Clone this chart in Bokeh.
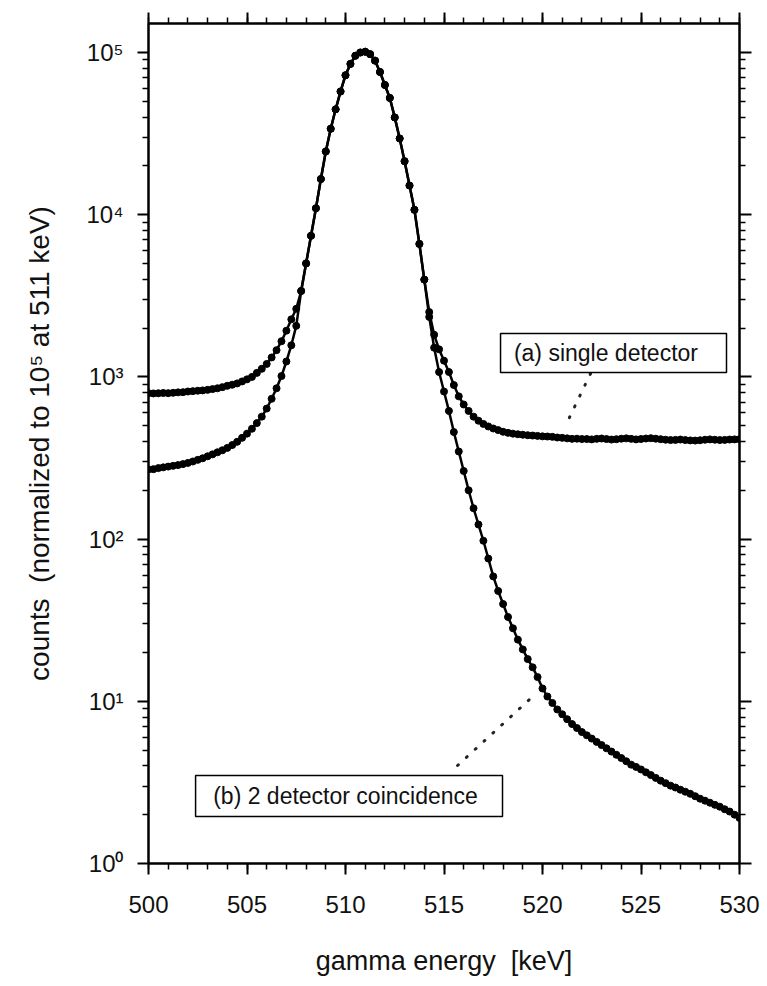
from bokeh.plotting import figure
from bokeh.models import (ColumnDataSource, LinearAxis, LogAxis, FixedTicker,
                          CustomJSTickFormatter, BoxAnnotation, Label, Range1d)
from bokeh.embed import file_html
from bokeh.resources import INLINE

# ---- data (gamma energy in keV, normalized counts) ----
energy_kev = [
    500.0, 500.25, 500.5, 500.75, 501.0, 501.25, 501.5, 501.75,
    502.0, 502.25, 502.5, 502.75, 503.0, 503.25, 503.5, 503.75,
    504.0, 504.25, 504.5, 504.75, 505.0, 505.25, 505.5, 505.75,
    506.0, 506.25, 506.5, 506.75, 507.0, 507.25, 507.5, 507.75,
    508.0, 508.25, 508.5, 508.75, 509.0, 509.25, 509.5, 509.75,
    510.0, 510.25, 510.5, 510.75, 511.0, 511.25, 511.5, 511.75,
    512.0, 512.25, 512.5, 512.75, 513.0, 513.25, 513.5, 513.75,
    514.0, 514.25, 514.5, 514.75, 515.0, 515.25, 515.5, 515.75,
    516.0, 516.25, 516.5, 516.75, 517.0, 517.25, 517.5, 517.75,
    518.0, 518.25, 518.5, 518.75, 519.0, 519.25, 519.5, 519.75,
    520.0, 520.25, 520.5, 520.75, 521.0, 521.25, 521.5, 521.75,
    522.0, 522.25, 522.5, 522.75, 523.0, 523.25, 523.5, 523.75,
    524.0, 524.25, 524.5, 524.75, 525.0, 525.25, 525.5, 525.75,
    526.0, 526.25, 526.5, 526.75, 527.0, 527.25, 527.5, 527.75,
    528.0, 528.25, 528.5, 528.75, 529.0, 529.25, 529.5, 529.75,
    530.0,
]

single_detector = [
    794, 791, 793, 796, 794, 798, 803, 805,
    813, 817, 822, 826, 832, 841, 851, 865,
    881, 895, 912, 938, 966, 1000, 1059, 1122,
    1202, 1318, 1462, 1660, 1928, 2265, 2630, 3388,
    5012, 7413, 10965, 16596, 24547, 33884, 44668, 57544,
    72444, 85114, 95499, 100000, 101158, 97724, 89125, 75858,
    63096, 52481, 39811, 29512, 21380, 15136, 10715, 6607,
    3981, 2512, 1820, 1479, 1259, 1072, 891, 759,
    676, 617, 569, 537, 513, 495, 481, 470,
    459, 452, 447, 443, 440, 437, 435, 433,
    430, 429, 427, 423, 421, 418, 415, 416,
    414, 414, 412, 415, 417, 414, 411, 413,
    416, 418, 415, 412, 414, 417, 419, 416,
    413, 410, 408, 409, 411, 408, 406, 405,
    407, 410, 412, 410, 408, 409, 411, 412,
    413,
]

two_detector_coincidence = [
    269, 270, 274, 277, 280, 283, 286, 290,
    295, 301, 308, 315, 324, 333, 343, 353,
    365, 380, 398, 421, 447, 479, 519, 569,
    638, 733, 851, 1012, 1245, 1567, 2065, 3388,
    5012, 7413, 10965, 16596, 24547, 33884, 44668, 57544,
    72444, 85114, 95499, 100000, 101158, 97724, 89125, 75858,
    63096, 52481, 39811, 29512, 21380, 15136, 10715, 6607,
    3981, 2344, 1514, 1072, 813, 617, 457, 347,
    263, 200, 155, 123, 97.7, 75.9, 58.9, 47.9,
    39.8, 33.1, 28.2, 24.0, 20.9, 18.2, 16.2, 14.1,
    12.0, 10.7, 9.77, 8.91, 8.32, 7.76, 7.24, 6.84,
    6.46, 6.17, 5.89, 5.62, 5.37, 5.13, 4.90, 4.68,
    4.47, 4.27, 4.07, 3.94, 3.80, 3.65, 3.51, 3.37,
    3.24, 3.13, 3.02, 2.94, 2.85, 2.77, 2.69, 2.60,
    2.51, 2.44, 2.37, 2.30, 2.24, 2.16, 2.09, 2.00,
    1.91,
]

x_major_ticks = [500, 505, 510, 515, 520, 525, 530]
y_major_ticks = [1, 10, 100, 1000, 10000, 100000]

label_a = "(a) single detector"
label_b = "(b) 2 detector coincidence"
x_title = "gamma energy\u00a0 [keV]"
y_title = "counts\u00a0 (normalized to 10\u2075 at 511 keV)"

FONT = "Liberation Sans"

# ---- figure ----
p = figure(width=767, height=986, y_axis_type="log",
           x_range=Range1d(500, 530), y_range=Range1d(1, 151000),
           output_backend="svg", toolbar_location=None,
           min_border_left=148, min_border_right=28,
           min_border_top=23, min_border_bottom=123)
p.grid.visible = False
p.outline_line_color = "black"
p.outline_line_width = 2
p.background_fill_color = "white"
p.border_fill_color = "white"

x_minor = list(range(500, 531))
y_minor = [m * 10 ** e for e in range(0, 6) for m in range(2, 10)]

sup_formatter = CustomJSTickFormatter(code="""
const sup = {0:'\u2070',1:'\u00b9',2:'\u00b2',3:'\u00b3',4:'\u2074',5:'\u2075',6:'\u2076'};
const e = Math.round(Math.log10(tick));
return '10' + sup[e];
""")
blank = CustomJSTickFormatter(code="return '';")


def style_axis(ax, tick_out=11, minor_out=6):
    ax.axis_line_color = "black"
    ax.axis_line_width = 2
    ax.major_tick_line_color = "black"
    ax.major_tick_line_width = 2
    ax.minor_tick_line_color = "black"
    ax.minor_tick_line_width = 1.5
    ax.major_tick_in = 0
    ax.minor_tick_in = 0
    ax.major_tick_out = tick_out
    ax.minor_tick_out = minor_out
    ax.major_label_text_font = FONT
    ax.major_label_text_color = "#111111"
    ax.axis_label_text_font = FONT
    ax.axis_label_text_font_style = "normal"
    ax.axis_label_text_color = "#111111"


xb = p.below[0]
xb.ticker = FixedTicker(ticks=x_major_ticks, minor_ticks=x_minor)
style_axis(xb)
xb.major_label_text_font_size = "24px"
xb.major_label_standoff = 21
xb.axis_label = x_title
xb.axis_label_text_font_size = "27px"
xb.axis_label_standoff = 30

yl = p.left[0]
yl.ticker = FixedTicker(ticks=y_major_ticks, minor_ticks=y_minor)
yl.formatter = sup_formatter
style_axis(yl)
yl.major_label_text_font_size = "24px"
yl.major_label_standoff = 14
yl.axis_label = y_title
yl.axis_label_text_font_size = "28px"
yl.axis_label_standoff = 28

xt = LinearAxis(ticker=FixedTicker(ticks=x_major_ticks, minor_ticks=x_minor),
                formatter=blank)
style_axis(xt)
xt.major_label_text_font_size = "1px"
xt.major_label_standoff = 0
p.add_layout(xt, "above")

yr = LogAxis(ticker=FixedTicker(ticks=y_major_ticks, minor_ticks=y_minor),
             formatter=blank)
style_axis(yr, tick_out=12, minor_out=6)
yr.major_label_text_font_size = "1px"
yr.major_label_standoff = 0
p.add_layout(yr, "right")

# ---- curves ----
src_a = ColumnDataSource(dict(x=energy_kev, y=single_detector))
src_b = ColumnDataSource(dict(x=energy_kev, y=two_detector_coincidence))
for src in (src_a, src_b):
    p.line("x", "y", source=src, line_color="black", line_width=2.5)
    p.scatter("x", "y", source=src, marker="circle", size=7,
              fill_color="black", line_color="black")

# ---- annotations (boxes, labels, dotted leaders) ----
p.segment(x0=[522.44, 515.69], y0=[1050, 4.02], x1=[521.17, 519.39], y1=[501, 10.4],
          line_color="#222222", line_width=3, line_dash="1 11", line_cap="round")

p.add_layout(BoxAnnotation(left=517.87, right=529.34, bottom=1064, top=1853,
                           fill_color="white", fill_alpha=1.0,
                           line_color="black", line_alpha=1.0, line_width=1.5))
p.add_layout(BoxAnnotation(left=502.39, right=517.97, bottom=1.95, top=3.49,
                           fill_color="white", fill_alpha=1.0,
                           line_color="black", line_alpha=1.0, line_width=1.5))
p.add_layout(Label(x=523.22, y=1413, text=label_a, text_align="center",
                   text_baseline="middle", text_font=FONT, text_font_size="23px",
                   text_color="#111111"))
p.add_layout(Label(x=510.0, y=2.59, text=label_b, text_align="center",
                   text_baseline="middle", text_font=FONT, text_font_size="23px",
                   text_color="#111111"))

open("out.html", "w").write(file_html(p, INLINE))
